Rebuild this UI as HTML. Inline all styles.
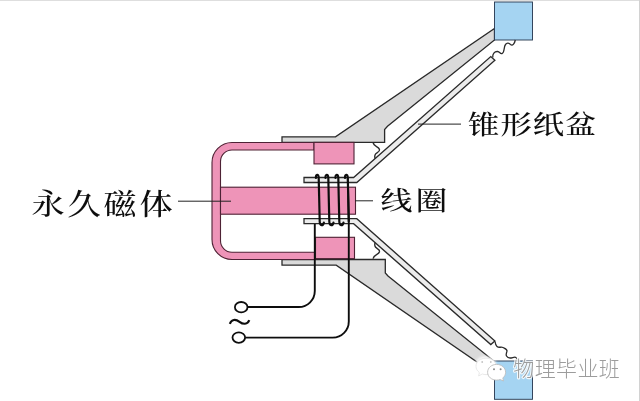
<!DOCTYPE html>
<html><head><meta charset="utf-8">
<style>
html,body{margin:0;padding:0;background:#fff;}
body{width:640px;height:401px;overflow:hidden;}
svg{display:block;}
text{font-family:"Liberation Serif","Noto Serif CJK SC",serif;}
.wm{font-family:"Liberation Sans","Noto Sans CJK SC",sans-serif;}
</style></head><body>
<svg width="640" height="401" viewBox="0 0 640 401">
<defs>
<filter id="glow" x="-30%" y="-30%" width="160%" height="160%"><feGaussianBlur stdDeviation="1.6"/></filter>
<filter id="soft" x="-5%" y="-5%" width="110%" height="110%"><feGaussianBlur stdDeviation="0.42"/></filter>
</defs>
<rect width="640" height="401" fill="#fff"/>
<rect x="0" y="0" width="640" height="1" fill="#dedede"/>
<rect x="639" y="0" width="1" height="401" fill="#d2d2d2"/>
<g filter="url(#soft)">
<!-- frame top / bottom -->
<path d="M282,136.8 H335.5 L494.5,28.5 V40 L387.5,126.3 L384.6,129.5 V142.4 H282 Z" fill="#dadada" stroke="#2a2a2a" stroke-width="1.3" stroke-linejoin="miter"/>
<path d="M282,265.2 H336.2 L494.5,374 V361.5 L388,276 L385.3,273 V259.5 H282 Z" fill="#dadada" stroke="#2a2a2a" stroke-width="1.3" stroke-linejoin="miter"/>
<rect x="494.5" y="2" width="38" height="38" fill="#a5d4f2" stroke="#2d3e55" stroke-width="0.95"/>
<rect x="494.5" y="361" width="38" height="38.3" fill="#a5d4f2" stroke="#2d3e55" stroke-width="0.95"/>
<!-- cone + waves (top), mirrored for bottom -->
<g>
<path d="M304,177.5 H353.6 L490.8,56.6 L494.9,60.2 L356.8,182.5 H304 Z" fill="#ececec" stroke="#2a2a2a" stroke-width="1.3"/>
<path d="M373,142.5 C374,147 378.5,146 379.5,149.5 C380.2,152.5 375.5,152.5 375,155 C374.5,156.5 374.8,157.5 375,158.5" fill="none" stroke="#2a2a2a" stroke-width="1.4"/>
</g>
<g transform="translate(0,401.2) scale(1,-1)">
<path d="M304,177.5 H353.6 L490.8,56.6 L494.9,60.2 L356.8,182.5 H304 Z" fill="#ececec" stroke="#2a2a2a" stroke-width="1.3"/>
<path d="M373,142.5 C374,147 378.5,146 379.5,149.5 C380.2,152.5 375.5,152.5 375,155 C374.5,156.5 374.8,157.5 375,158.5" fill="none" stroke="#2a2a2a" stroke-width="1.4"/>
</g>
<path d="M492.8,57.5 C492.3,54 494.5,51.3 497.5,51.5 C500,51.7 500,54.2 502,53.6 C504.8,52.8 503.5,47 505.5,44.5 C507,42.5 509,43 510.5,44.5 C512.5,46.2 514.5,44 515.3,40" fill="none" stroke="#2a2a2a" stroke-width="1.3"/>
<path d="M495,341.5 C495.3,343.5 495.8,345.5 497,346.5 C499,348.2 501,346.5 503,347.5 C505,348.5 507.3,349 507,351 C506.7,353 505.5,354.5 506.5,356 C507.5,357.6 508.5,358 510,358 C512.5,358 514.5,356.5 516,357.5 C516.8,358 516.9,359.5 517,360.5" fill="none" stroke="#2a2a2a" stroke-width="1.3"/>
<!-- magnet U -->
<path d="M314,142.5 H232 A20,20 0 0 0 212,162.5 V239.5 A20,20 0 0 0 232,259.5 H316 V252.2 H232 A11.5,11.5 0 0 1 220.5,240.7 V161.5 A11.5,11.5 0 0 1 232,150 H314 Z" fill="#ee94b8" stroke="#4e2234" stroke-width="1.1"/>
<!-- pole -->
<rect x="220.5" y="187.2" width="135" height="27" fill="#ee94b8" stroke="#4e2234" stroke-width="1.1"/>
<!-- blocks -->
<rect x="314" y="142.4" width="40" height="21.5" fill="#ee94b8" stroke="#4e2234" stroke-width="1.1"/>
<rect x="315.5" y="237.3" width="39" height="21.3" fill="#ee94b8" stroke="#4e2234" stroke-width="1.1"/>
<!-- wires -->
<path d="M314.8,224 V291 A16,16 0 0 1 298.8,307 H247.5" fill="none" stroke="#111" stroke-width="1.9"/>
<path d="M347.8,177.5 L348.8,224 V321.6 A16,16 0 0 1 332.8,337.6 H245" fill="none" stroke="#111" stroke-width="1.9"/>
<ellipse cx="241.2" cy="307.2" rx="6.3" ry="5.2" fill="#fff" stroke="#111" stroke-width="1.8"/>
<ellipse cx="238.8" cy="337.6" rx="6.3" ry="5.2" fill="#fff" stroke="#111" stroke-width="1.8"/>
<path d="M229.8,323.8 C231.5,319.3 235.5,318.8 239.5,321.8 C243,324.4 247.5,324.9 249.3,320.2" fill="none" stroke="#111" stroke-width="2.1"/>
<!-- coil -->
<g fill="none" stroke="#111" stroke-width="2.2" stroke-linecap="round">
<path d="M315.9,178 C315.7,174 318.5,173.6 318.7,177.5 L319.7,221.5 C319.8,226 323.3,226.4 323.9,222.5"/>
<path d="M325.5,178 C325.3,174 328.1,173.6 328.3,177.5 L329.3,221.5 C329.4,226 332.9,226.4 333.5,222.5"/>
<path d="M335.5,178 C335.3,174 338.1,173.6 338.3,177.5 L339.3,221.5 C339.4,226 342.9,226.4 343.5,222.5"/>
<path d="M345.0,178 C344.8,174 347.6,173.6 347.8,177.5 L348.8,221.5"/>
</g>
<!-- leader lines -->
<path d="M178,201.2 H231" stroke="#222" stroke-width="1"/>
<path d="M355,200.8 H373" stroke="#222" stroke-width="1"/>
<path d="M418,124.1 H461" stroke="#222" stroke-width="1"/>
<!-- labels -->
<text id="t1" font-size="31" font-weight="500" fill="#111" transform="translate(31.6,215.4) scale(1.07,0.94)" y="0" x="0 33.64 67.29 100.93">永久磁体</text>
<text id="t2" font-size="29" font-weight="500" fill="#111" transform="translate(380.5,209.7) scale(1.1,0.92)" y="0" x="0 31.8">线圈</text>
<text id="t3" font-size="29" font-weight="500" fill="#111" transform="translate(468,134.2) scale(1.08,0.92)" y="0" x="0 30 60 89.8">锥形纸盆</text>
</g>
<!-- watermark -->
<ellipse cx="485.5" cy="365" rx="10.5" ry="8.5" fill="#fff" filter="url(#glow)"/>
<g filter="url(#soft)">
<path d="M476,366.3 C476,361.6 480.3,358.2 486,358.2 C491.7,358.2 496.3,361.6 496.3,366.3 C496.3,371 491.7,374.6 486,374.6 C484.6,374.6 483.4,374.4 482.2,374 L478.6,376 L479.4,372.6 C477.3,371 476,368.8 476,366.3 Z" fill="#fff" stroke="#e3e3e3" stroke-width="0.8"/>
<circle cx="482.2" cy="362" r="0.9" fill="#c4c4c4"/><circle cx="490.8" cy="362" r="0.9" fill="#c4c4c4"/>
<path d="M487.6,372.3 C487.6,367.8 491.6,364.4 496.6,364.4 C501.6,364.4 505.6,367.8 505.6,372.3 C505.6,374.6 504.5,376.6 502.8,378 L503.5,381 L500.2,379.5 C499.1,379.9 497.9,380.1 496.6,380.1 C491.6,380.1 487.6,376.7 487.6,372.3 Z" fill="#fff" stroke="#bdbdbd" stroke-width="0.9"/>
<circle cx="494" cy="369.3" r="1" fill="#8a8a8a"/><circle cx="500.6" cy="369.3" r="1" fill="#8a8a8a"/>
<text class="wm" font-size="21" font-weight="300" y="376" x="513.3" fill="#9c9c9c" stroke="#fff" stroke-width="2.2" stroke-opacity="0.85" stroke-linejoin="round" paint-order="stroke" textLength="106.5">物理毕业班</text>
</g>
</svg>
</body></html>
